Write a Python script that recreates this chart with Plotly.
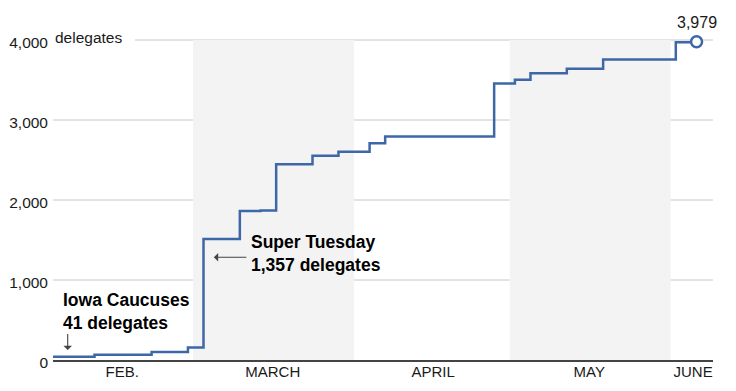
import plotly.graph_objects as go

# ---- data ----
dates = ["2020-02-03", "2020-02-11", "2020-02-22", "2020-02-29", "2020-03-03",
         "2020-03-10", "2020-03-14", "2020-03-17", "2020-03-24", "2020-03-29",
         "2020-04-04", "2020-04-07", "2020-04-28", "2020-05-02", "2020-05-05",
         "2020-05-12", "2020-05-19", "2020-06-02", "2020-06-06"]
cumulative_delegates = [41, 65, 101, 155, 1512, 1864, 1870, 2447, 2552, 2603,
                        2710, 2794, 3457, 3503, 3585, 3642, 3757, 3972, 3979]

month_tick_dates = ["2020-02-16 08:00", "2020-03-16 08:00", "2020-04-16 06:00",
                    "2020-05-16 08:00", "2020-06-05 08:00"]
month_tick_labels = ["FEB.", "MARCH", "APRIL", "MAY", "JUNE"]

y_tick_values = [0, 1000, 2000, 3000, 4000]
y_tick_labels = ["0", "1,000", "2,000", "3,000", "4,000"]

shaded_months = [("2020-03-01", "2020-04-01"), ("2020-05-01", "2020-06-01")]

iowa_lines = ["Iowa Caucuses", "41 delegates"]
super_tuesday_lines = ["Super Tuesday", "1,357 delegates"]

FONT = "Liberation Sans"
LINE_COLOR = "#3d67a6"
TEXT = "#1a1a1a"

fig = go.Figure()

fig.add_trace(go.Scatter(
    x=dates, y=cumulative_delegates, mode="lines", line_shape="hv",
    line=dict(color=LINE_COLOR, width=2.5), hoverinfo="skip", showlegend=False,
))
fig.add_trace(go.Scatter(
    x=[dates[-1]], y=[cumulative_delegates[-1]], mode="markers",
    marker=dict(size=11, color="white", line=dict(color=LINE_COLOR, width=2.5)),
    hoverinfo="skip", showlegend=False,
))

shapes = []
for start, end in shaded_months:
    shapes.append(dict(type="rect", xref="x", yref="y", x0=start, x1=end,
                       y0=0, y1=y_tick_values[-1], fillcolor="#f3f3f3",
                       line=dict(width=0), layer="below"))
for v in y_tick_values[1:]:
    x0 = 0.124 if v == y_tick_values[-1] else 0
    shapes.append(dict(type="line", xref="paper", yref="y", x0=x0, x1=1,
                       y0=v, y1=v, line=dict(color="#c8c8c8", width=1),
                       layer="below"))

bold = dict(family=FONT, size=17.5, color="black")
arrow_style = dict(text="", showarrow=True, arrowhead=1, arrowsize=1.3,
                   arrowwidth=1.1, arrowcolor="#444", standoff=0,
                   font=dict(size=1))
annotations = [
    dict(xref="paper", yref="y", x=0.0, y=y_tick_values[-1], text="delegates",
         xanchor="left", yanchor="middle", showarrow=False, yshift=3,
         font=dict(family=FONT, size=15.5, color=TEXT)),
    dict(xref="x", yref="y", x=dates[-1], y=cumulative_delegates[-1],
         text=f"{cumulative_delegates[-1]:,}", showarrow=False, yanchor="middle",
         yshift=19, font=dict(family=FONT, size=16, color=TEXT)),
    # Iowa label
    dict(xref="x", yref="y", x="2020-02-04 15:00", y=606,
         text="<b>" + "<br>".join(iowa_lines) + "</b>",
         showarrow=False, xanchor="left", yanchor="middle", align="left", font=bold),
    dict(xref="x", yref="y", x="2020-02-05 20:00", y=125,
         axref="x", ayref="y", ax="2020-02-05 20:00", ay=345, **arrow_style),
    # Super Tuesday label
    dict(xref="x", yref="y", x="2020-03-11 20:00", y=1337,
         text="<b>" + "<br>".join(super_tuesday_lines) + "</b>",
         showarrow=False, xanchor="left", yanchor="middle", align="left", font=bold),
    dict(xref="x", yref="y", x="2020-03-05", y=1284,
         axref="x", ayref="y", ax="2020-03-11 13:00", ay=1284, **arrow_style),
]

fig.update_layout(
    width=736, height=391, autosize=False,
    margin=dict(l=53, r=23, t=20, b=31),
    plot_bgcolor="white", paper_bgcolor="white",
    shapes=shapes, annotations=annotations,
    font=dict(family=FONT, size=15, color=TEXT),
    xaxis=dict(type="date", range=["2020-02-03", "2020-06-09 04:00"],
               tickvals=month_tick_dates, ticktext=month_tick_labels,
               ticks="", showgrid=False, zeroline=False, automargin=False,
               showline=True, linecolor="#444", linewidth=1.5,
               ticklabelstandoff=-3,
               tickfont=dict(family=FONT, size=15, color=TEXT)),
    yaxis=dict(range=[0, 4250], tickvals=y_tick_values, ticktext=y_tick_labels,
               ticks="", showgrid=False, zeroline=False, showline=False,
               automargin=False,
               ticklabelstandoff=4, ticklabelshift=3,
               tickfont=dict(family=FONT, size=15.5, color=TEXT)),
)

fig.write_html("out.html", config={"displayModeBar": False},
               post_script="document.body.style.margin='0';document.body.style.padding='0';")
